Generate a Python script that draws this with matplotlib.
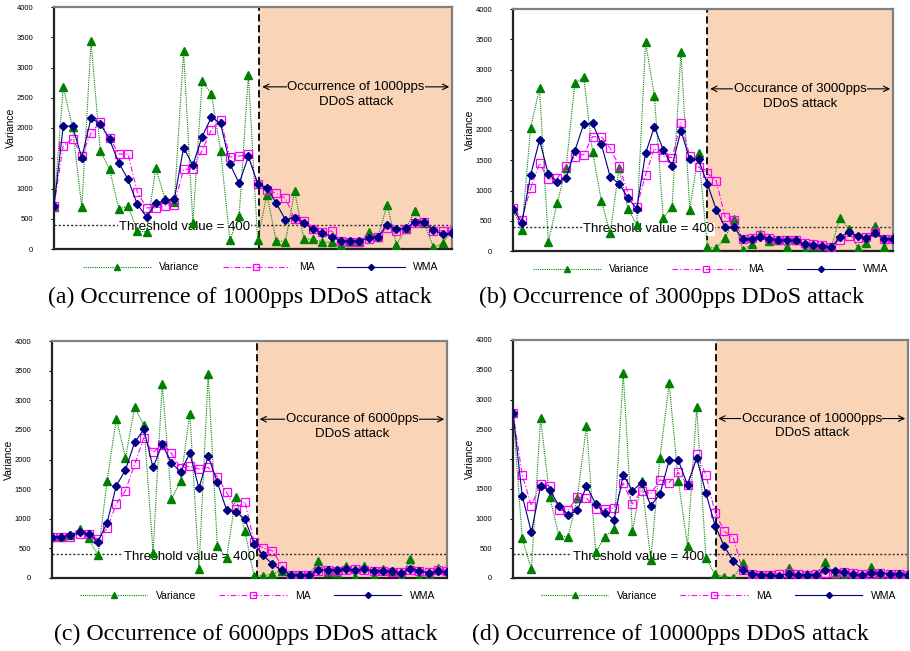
import matplotlib
matplotlib.use("Agg")
import matplotlib.pyplot as plt
import numpy as np

plt.rcParams['font.family'] = ['Liberation Sans', 'DejaVu Sans']

# ---- data (44 samples each) ----
var_a = [700, 2680, 2010, 690, 3430, 1620, 1320, 665, 710, 300, 280, 1340, 820, 780, 3270, 430,
         2770, 2570, 1620, 150, 540, 2870, 150, 900, 140, 120, 955, 165, 165, 110, 110, 60,
         110, 110, 275, 200, 735, 70, 330, 635, 425, 25, 95, 320]
ma_a = [710, 1710, 1820, 1545, 1920, 2095, 1835, 1570, 1570, 940, 680, 680, 710, 735, 1315, 1325,
        1630, 1975, 2140, 1520, 1535, 1565, 1080, 980, 920, 840, 500, 460, 330, 280, 300, 140,
        120, 120, 170, 200, 350, 300, 330, 430, 440, 300, 300, 300]
wma_a = [710, 2030, 2030, 1510, 2160, 2070, 1810, 1425, 1150, 740, 530, 755, 805, 820, 1675, 1385,
         1855, 2180, 2075, 1410, 1085, 1530, 1080, 1010, 760, 485, 520, 430, 325, 265, 205, 130,
         130, 130, 190, 205, 400, 325, 340, 450, 450, 315, 245, 260]

var_b = [700, 340, 2040, 2690, 150, 795, 1365, 2775, 2875, 1640, 825, 300, 1365, 700, 435, 3450,
         2565, 545, 730, 3285, 685, 1625, 60, 45, 220, 525, 10, 115, 280, 170, 190, 60,
         190, 15, 90, 80, 60, 550, 370, 50, 125, 420, 70, 230]
ma_b = [710, 520, 1035, 1450, 1190, 1200, 1410, 1560, 1595, 1890, 1890, 1695, 1410, 960, 730, 1255,
        1695, 1560, 1545, 2120, 1575, 1390, 1285, 1160, 560, 520, 205, 220, 260, 215, 180, 180,
        190, 135, 120, 95, 65, 190, 245, 220, 230, 315, 205, 205]
wma_b = [700, 465, 1255, 1835, 1270, 1145, 1200, 1660, 2095, 2110, 1765, 1225, 1115, 880, 700, 1615,
         2055, 1670, 1410, 1990, 1515, 1515, 1105, 685, 390, 390, 205, 205, 230, 205, 190, 175,
         175, 110, 95, 85, 65, 230, 315, 245, 215, 290, 205, 205]

var_c = [700, 700, 720, 830, 670, 380, 1640, 2690, 2030, 2880, 2580, 430, 3280, 1330, 1635, 2775,
         150, 3440, 535, 330, 1360, 790, 30, 40, 70, 120, 50, 50, 50, 295, 105, 90,
         210, 20, 210, 30, 150, 110, 10, 315, 10, 60, 175, 110]
ma_c = [700, 700, 700, 745, 745, 655, 840, 1245, 1475, 1920, 2365, 2120, 2245, 2105, 1850, 1890,
        1840, 1865, 1710, 1445, 1165, 1290, 610, 505, 460, 210, 50, 45, 45, 110, 130, 110,
        140, 150, 140, 110, 110, 95, 100, 130, 110, 95, 130, 110]
wma_c = [700, 700, 720, 775, 745, 615, 935, 1555, 1825, 2290, 2510, 1865, 2255, 1945, 1795, 2105,
         1515, 2060, 1615, 1150, 1120, 995, 580, 380, 235, 130, 55, 45, 45, 140, 140, 140,
         160, 130, 155, 125, 125, 110, 85, 155, 125, 85, 110, 95]

var_d = [2780, 670, 150, 2685, 1355, 715, 690, 1345, 2560, 430, 695, 820, 3440, 785, 1635, 300,
         2025, 3270, 1630, 540, 2870, 330, 60, 20, 5, 250, 15, 10, 10, 20, 170, 10,
         60, 70, 265, 55, 30, 50, 20, 190, 70, 15, 60, 70]
ma_d = [2780, 1735, 1215, 1580, 1550, 1135, 1145, 1360, 1345, 1165, 1165, 1175, 1595, 1245, 1470, 1415,
        1650, 1605, 1775, 1565, 2085, 1735, 1100, 785, 670, 130, 75, 55, 55, 75, 85, 65,
        55, 65, 85, 85, 95, 85, 65, 65, 85, 65, 65, 55]
wma_d = [2780, 1385, 770, 1550, 1480, 1215, 1065, 1135, 1550, 1245, 1090, 980, 1735, 1465, 1605, 1215,
         1415, 1975, 1975, 1565, 2015, 1425, 880, 530, 280, 140, 75, 55, 45, 40, 75, 55,
         45, 55, 140, 110, 95, 65, 45, 85, 85, 65, 65, 55]

attack_labels = ["Occurrence of 1000pps", "Occurance of 3000pps",
                 "Occurance of 6000pps", "Occurance of 10000pps"]
captions = ["(a) Occurrence of 1000pps DDoS attack", "(b) Occurrence of 3000pps DDoS attack",
            "(c) Occurrence of 6000pps DDoS attack", "(d) Occurrence of 10000pps DDoS attack"]
attack_start = [22.2, 22.0, 22.3, 22.05]
threshold = 400

W, H = 910, 651
# axes boxes in pixels: left, top, right, bottom
boxes = [(54, 7, 452, 249), (513, 9, 893, 251), (52, 341, 447, 578), (513, 340, 908, 578)]
thr_text_x = [21.2, 22.8, 22.1, 20.8]
caption_pos = [(240, 297), (671, 297), (246, 634), (670, 634)]

panels = [(var_a, ma_a, wma_a), (var_b, ma_b, wma_b), (var_c, ma_c, wma_c), (var_d, ma_d, wma_d)]
peach = '#FAD4B6'

fig = plt.figure(figsize=(W / 100, H / 100), dpi=100)

for k, (v, m, w) in enumerate(panels):
    l, t, r, b = boxes[k]
    ax = fig.add_axes([l / W, 1 - b / H, (r - l) / W, (b - t) / H])
    x = np.arange(len(v))
    xs = attack_start[k]

    ax.axvspan(xs, x[-1], color=peach, zorder=0, lw=0)
    ax.axvline(xs, color='black', ls=(0, (4, 2)), lw=1.3, zorder=1)
    ax.axhline(threshold, color='#303030', ls=(0, (1.5, 1.5)), lw=1.0, zorder=1)
    ax.text(thr_text_x[k], threshold - 40, "Threshold value = 400", ha='right', va='center',
            fontsize=9.5, zorder=2, bbox=dict(facecolor='white', edgecolor='none', pad=0.5))

    ax.plot(x, v, color='#008000', ls=(0, (1, 1)), lw=0.8, marker='^', ms=6,
            label='Variance', zorder=3)
    ax.plot(x, m, color='#FF00FF', ls=(0, (5, 2, 1, 2)), lw=0.8, marker='s', ms=6,
            mfc='none', mec='#FF00FF', mew=0.9, label='MA', zorder=4)
    ax.plot(x, w, color='#000080', ls='-', lw=0.8, marker='D', ms=4.5,
            label='WMA', zorder=5)

    # attack-period arrow with the label sitting on it
    ya = 2680
    ax.annotate('', xy=(xs, ya), xytext=(x[-1], ya),
                arrowprops=dict(arrowstyle='<->', lw=0.8, color='black', mutation_scale=10),
                zorder=6)
    xc = (xs + x[-1]) / 2
    ax.text(xc, ya, attack_labels[k], ha='center', va='center', fontsize=9.5, zorder=7,
            bbox=dict(facecolor=peach, edgecolor='none', pad=0.3))
    ax.text(xc, ya - 250, "DDoS attack", ha='center', va='center', fontsize=9.5, zorder=7)

    ax.set_xlim(0, x[-1])
    ax.set_ylim(0, 4000)
    ax.set_yticks(np.arange(0, 4001, 500))
    ax.set_xticks([])
    ax.tick_params(axis='y', labelsize=5.5, length=2, width=0.8, pad=13)
    ax.set_ylabel('Variance', fontsize=7.5, labelpad=0)
    for s in ['left', 'bottom']:
        ax.spines[s].set_color('#222222')
        ax.spines[s].set_linewidth(1.6)
    for s in ['top', 'right']:
        ax.spines[s].set_color('#808080')
        ax.spines[s].set_linewidth(1.6)

    ax.legend(loc='center', bbox_to_anchor=(0.52, -0.075), ncol=3, frameon=False,
              fontsize=7.5, handlelength=6.5, handletextpad=0.8, columnspacing=2.2,
              numpoints=1, markerscale=0.7)

    cx, cy = caption_pos[k]
    fig.text(cx / W, 1 - cy / H, captions[k], ha='center', va='center', fontsize=17.2,
             family='Liberation Serif')

fig.savefig('out.png', dpi=100)
